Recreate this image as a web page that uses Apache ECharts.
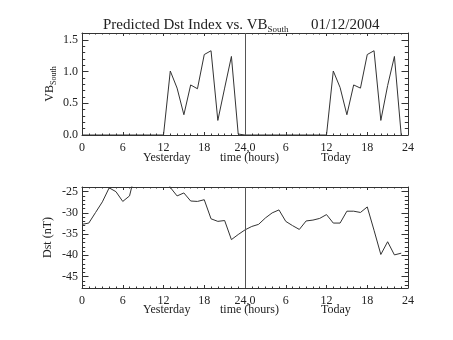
<!DOCTYPE html>
<html>
<head>
<meta charset="utf-8">
<script src="https://cdn.jsdelivr.net/npm/echarts@6/dist/echarts.min.js"></script>
<style>
html,body{margin:0;padding:0;background:#fff;}
#c{width:453px;height:340px;}
</style>
</head>
<body>
<div id="c"></div>
<script>
// ---- data ----
var xTickLabels = ['0', '6', '12', '18', '24,0', '6', '12', '18', '24'];
var vbYesterday = [0,0,0,0,0,0,0,0,0,0,0,0,0,1.01,0.74,0.32,0.79,0.73,1.27,1.33,0.23,0.74,1.24,0.015];
var vbToday     = [0,0,0,0,0,0,0,0,0,0,0,0,0,1.01,0.75,0.32,0.79,0.74,1.27,1.33,0.23,0.78,1.24,0];
var dstYesterday = [-32.7,-32.4,-29.9,-27.4,-24.1,-25.0,-27.3,-26.0,-19.5,-18.0,-17.0,-18.0,-20.5,-24.0,-26.0,-25.3,-27.2,-27.3,-26.9,-31.4,-32.0,-31.8,-36.3,-35.1];
var dstToday     = [-34.0,-33.2,-32.7,-31.2,-30.0,-29.3,-32.0,-33.0,-33.9,-31.9,-31.7,-31.3,-30.4,-32.4,-32.4,-29.6,-29.6,-29.9,-28.6,-34.1,-39.8,-36.8,-39.9,-39.5];
var dayBoundary = 24;

function toPairs(y, t) {
  var out = [];
  for (var i = 0; i < y.length; i++) out.push([i, y[i]]);
  for (var j = 0; j < t.length; j++) out.push([j + y.length, t[j]]);
  return out;
}

var FONT = 'Liberation Serif';
var TXT = '#222';
var LN = '#333';

function xAx(gi, pos) {
  var bottom = pos === 'bottom';
  return {
    type: 'value', gridIndex: gi, position: pos, min: 0, max: 48, interval: 6,
    axisLine: {show: true, onZero: false, lineStyle: {color: LN, width: 1}},
    axisTick: {show: true, inside: true, length: 3, lineStyle: {color: LN}},
    minorTick: {show: true, splitNumber: 6, length: 1.5, lineStyle: {color: LN}},
    splitLine: {show: false}, minorSplitLine: {show: false},
    axisLabel: {show: bottom, margin: 7, fontFamily: FONT, fontSize: 12, color: TXT,
      formatter: function (v) { return xTickLabels[Math.round(v / 6)]; }}
  };
}
function yAx(gi, pos, min, max, split, fmt, name, showMin) {
  var left = pos === 'left';
  var o = {
    type: 'value', gridIndex: gi, position: pos, min: min, max: max, splitNumber: split,
    axisLine: {show: true, onZero: false, lineStyle: {color: LN, width: 1}},
    axisTick: {show: true, inside: true, length: 6.5, lineStyle: {color: LN}},
    minorTick: {show: true, splitNumber: 5, length: 3.2, lineStyle: {color: LN}},
    splitLine: {show: false}, minorSplitLine: {show: false},
    axisLabel: {show: left, margin: 4, fontFamily: FONT, fontSize: 12, color: TXT,
      showMinLabel: !!showMin, showMaxLabel: false, formatter: fmt}
  };
  if (left && name) {
    o.name = name.text; o.nameLocation = 'middle'; o.nameGap = name.gap; o.nameRotate = 90;
    o.nameMoveOverlap = false;
    o.nameTextStyle = {fontFamily: FONT, fontSize: 12, color: TXT, rich: name.rich};
  }
  return o;
}

var chart = echarts.init(document.getElementById('c'), null, {renderer: 'canvas'});
chart.setOption({
  backgroundColor: '#fff',
  animation: false,
  title: {
    left: 98, top: 11,
    text: '{a|Predicted Dst Index vs. VB}{s|South}{a|      01/12/2004}',
    textStyle: {
      fontWeight: 'normal',
      rich: {
        a: {fontFamily: FONT, fontSize: 15, fontWeight: 'normal', color: TXT, lineHeight: 18},
        s: {fontFamily: FONT, fontSize: 9, fontWeight: 'normal', color: TXT, lineHeight: 18, padding: [9, 0, 0, 0]}
      }
    }
  },
  grid: [
    {left: 82, top: 33, width: 326, height: 102},
    {left: 82, top: 187, width: 326, height: 101}
  ],
  xAxis: [xAx(0, 'bottom'), xAx(0, 'top'), xAx(1, 'bottom'), xAx(1, 'top')],
  yAxis: [
    yAx(0, 'left', 0, 1.61, 3, function (v) { return v.toFixed(1); },
      {text: '{a|VB}{s|South}', gap: 24, rich: {
        a: {fontFamily: FONT, fontSize: 12, color: TXT, lineHeight: 16},
        s: {fontFamily: FONT, fontSize: 8, color: TXT, lineHeight: 16, padding: [7, 0, 0, 0]}}}, true),
    yAx(0, 'right', 0, 1.61, 3, null, null, false),
    yAx(1, 'left', -47.7, -23.9, 5, function (v) { return String(Math.round(v)); },
      {text: 'Dst (nT)', gap: 28, rich: {}}, false),
    yAx(1, 'right', -47.7, -23.9, 5, null, null, false)
  ],
  graphic: [
    {type: 'text', left: 143, top: 152, style: {text: 'Yesterday', font: '12px "Liberation Serif"', fill: TXT}},
    {type: 'text', left: 220, top: 152, style: {text: 'time (hours)', font: '12px "Liberation Serif"', fill: TXT}},
    {type: 'text', left: 321, top: 152, style: {text: 'Today', font: '12px "Liberation Serif"', fill: TXT}},
    {type: 'text', left: 143, top: 304, style: {text: 'Yesterday', font: '12px "Liberation Serif"', fill: TXT}},
    {type: 'text', left: 220, top: 304, style: {text: 'time (hours)', font: '12px "Liberation Serif"', fill: TXT}},
    {type: 'text', left: 321, top: 304, style: {text: 'Today', font: '12px "Liberation Serif"', fill: TXT}}
  ],
  series: [
    {type: 'line', xAxisIndex: 0, yAxisIndex: 0, data: toPairs(vbYesterday, vbToday),
      showSymbol: false, clip: true, lineStyle: {color: LN, width: 1},
      markLine: {silent: true, symbol: 'none', label: {show: false},
        lineStyle: {color: '#555', width: 1, type: 'solid'}, data: [{xAxis: dayBoundary}]}},
    {type: 'line', xAxisIndex: 2, yAxisIndex: 2, data: toPairs(dstYesterday, dstToday),
      showSymbol: false, clip: true, lineStyle: {color: LN, width: 1},
      markLine: {silent: true, symbol: 'none', label: {show: false},
        lineStyle: {color: '#555', width: 1, type: 'solid'}, data: [{xAxis: dayBoundary}]}}
  ]
});
</script>
</body>
</html>
